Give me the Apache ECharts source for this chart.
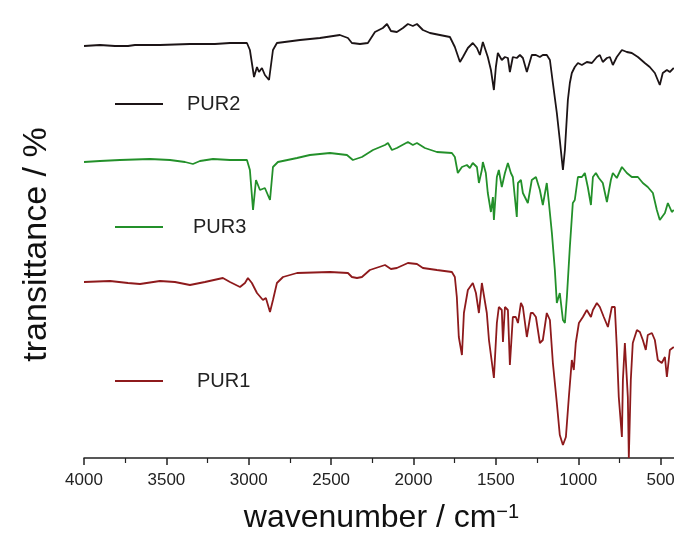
<!DOCTYPE html>
<html>
<head>
<meta charset="utf-8">
<script src="https://cdn.jsdelivr.net/npm/echarts@6/dist/echarts.min.js"></script>
<style>
  html, body { margin: 0; padding: 0; background: #fff; }
  #chart { width: 674px; height: 535px; }
</style>
</head>
<body>
<div id="chart"></div>
<script>
// wavenumber (cm-1) and offset transmittance (arbitrary units)
const pur2Wn = [4000,3903,3812,3733,3691,3539,3357,3205,3114,3011,2993,2968,2950,2938,2920,2902,2877,2853,2829,2689,2568,2447,2398,2374,2325,2277,2265,2234,2186,2161,2137,2101,2064,2034,2004,1979,1943,1900,1840,1779,1749,1718,1700,1670,1640,1615,1597,1579,1567,1549,1530,1518,1512,1500,1488,1464,1445,1427,1415,1397,1373,1354,1336,1312,1282,1257,1233,1215,1191,1172,1154,1130,1112,1093,1081,1063,1051,1039,1021,1002,978,948,917,887,869,851,826,808,790,766,735,705,675,638,596,566,535,505,487,462,444,420];
const pur2T = [103,103.25,103,103,103.25,103.25,103.5,103.5,103.75,103.75,102,95.25,97.75,96.5,97.5,95.75,94.5,102,103.75,104.5,105,105.75,105,103.75,103.5,103.75,104,106.5,107.5,108.5,106.75,106.5,107.5,108.5,108,108.5,107,106.25,105.75,105.25,102.75,99,100.25,102.5,103.75,102.5,100.75,104,103.75,100.25,97,96.5,92,97.75,101.25,99.5,100.25,100,96.5,100.25,100,100.75,100,96.5,100.75,100.75,100.25,100.75,100.75,99.5,93.75,86.25,79.5,72,77,89.5,93.75,96.25,97.75,98.75,98.25,99,98.75,100.25,100.75,99,100,100.25,98.25,100.25,102,101.5,101.25,100.25,98.75,97.75,96.25,93.25,96.25,97,96.5,97.5];

const pur3Wn = [4000,3903,3782,3600,3478,3387,3339,3296,3217,3114,3011,2993,2974,2956,2932,2902,2871,2853,2823,2707,2629,2507,2404,2368,2313,2246,2173,2155,2131,2101,2034,2004,1979,1931,1858,1767,1749,1731,1706,1676,1658,1640,1615,1603,1585,1579,1561,1549,1530,1518,1512,1494,1482,1464,1445,1427,1409,1397,1373,1366,1348,1336,1306,1282,1257,1233,1215,1191,1178,1160,1142,1130,1112,1093,1081,1069,1051,1033,1021,1002,978,960,942,923,911,893,875,851,826,802,790,766,735,705,675,638,608,578,547,523,505,474,456,432,420];
const pur3T = [74,74.25,74.5,74.75,74.5,74,73.5,74.25,74.75,74.5,74.5,72,62,69.5,67,67.5,64.5,72.75,74,75,75.75,76.25,75.75,74.5,75.25,77,78.25,78.75,77,77.5,79,78.25,78.75,77.5,76.5,76.25,75.25,71.25,72.75,73.25,72.5,73.75,72.75,68.75,72,74,71.25,66.25,61.5,65.25,59.5,70.25,72,67.75,71.25,73.75,71.25,70.25,60.25,68.75,69.5,66.25,63.75,69.5,70.25,67,63.25,68.75,63.75,56.25,47,38.75,41.25,34.5,33.75,40.25,52.75,63.75,64.5,70.25,70.25,71.25,67.75,63.25,70.25,71.25,70,68.75,64,69.5,71.25,70,72.75,71.25,70.25,70.25,68.75,67.75,66.25,62,59.5,61.25,63.75,61.5,62];

const pur1Wn = [4000,3842,3733,3660,3539,3448,3357,3266,3157,3114,3053,3023,3005,2981,2950,2914,2896,2871,2853,2829,2792,2707,2507,2398,2374,2343,2313,2265,2173,2161,2137,2101,2034,1979,1943,1858,1767,1749,1737,1725,1706,1694,1670,1640,1621,1603,1585,1573,1555,1542,1530,1512,1494,1482,1464,1457,1445,1427,1415,1397,1379,1366,1348,1336,1312,1288,1275,1257,1233,1215,1191,1172,1154,1130,1112,1093,1075,1057,1039,1027,1015,996,972,948,923,911,887,869,845,820,796,778,766,754,735,729,717,711,699,693,681,669,644,626,608,590,578,553,535,517,493,474,462,444,420];
const pur1T = [44,44.25,43.75,43.5,44.25,44,43.25,44,45,44,42.75,43.75,45,43.75,41.25,39.5,40,36.5,39.5,43.75,45.25,46.25,46.5,46.25,45.25,45,45.25,47,48.25,48.5,47.25,47.5,48.75,48.5,47.5,47,46.5,45.25,40.25,30.25,25.75,36.25,42,43.75,41.25,36.25,43.75,44,36.25,29.5,29.5,20,33.75,37.75,37,29,37.75,37,23.25,35.25,35.25,33.75,38.75,37.75,30.25,36.25,36.25,35.25,28.75,29.5,36.25,34.5,23.75,13.75,5.75,3.25,5.25,15.25,24.5,22,28.75,33.75,35.25,37,35.25,37,38.75,37.75,35.25,32.75,37.75,37.75,27.75,15.25,5.25,19.5,28.75,28.25,15.25,0,19.5,28.75,32,31.5,29.5,27,30.75,31.25,29.5,24.5,23.75,25.25,20.25,27,27.75];

const names = ['PUR2', 'PUR3', 'PUR1'];
const colors = ['#1c1416', '#23902a', '#8e1a1c'];

function zip(xs, ys) {
  const out = [];
  for (let i = 0; i < Math.min(xs.length, ys.length); i++) out.push([xs[i], ys[i]]);
  return out;
}

const chart = echarts.init(document.getElementById('chart'), null, { renderer: 'canvas' });
const font = '"Liberation Sans", Arial, sans-serif';

function legendAt(name, top, gap) {
  return {
    data: [name],
    left: 115,
    top: top,
    padding: 0,
    icon: 'rect',
    itemWidth: 48,
    itemHeight: 2,
    selectedMode: false,
    textStyle: { fontFamily: font, fontSize: 20, color: '#222', padding: [0, 0, 0, gap] }
  };
}

chart.setOption({
  backgroundColor: '#ffffff',
  animation: false,
  // the plot runs on past the right edge of the picture, like the cropped original
  grid: { left: 84, right: -69, top: 15, bottom: 77, outerBoundsMode: 'none', containLabel: false },
  legend: [legendAt('PUR2', 94, 19), legendAt('PUR3', 217, 25), legendAt('PUR1', 371, 29)],
  xAxis: {
    type: 'value',
    inverse: true,
    min: 0,
    max: 4000,
    interval: 500,
    name: 'wavenumber / cm{sup|−1}',
    nameLocation: 'middle',
    nameGap: 44,
    nameTextStyle: {
      fontFamily: font, fontSize: 32, color: '#111', padding: [0, 64, 0, 0],
      rich: { sup: { fontFamily: font, fontSize: 20, color: '#111', verticalAlign: 'top', lineHeight: 16 } }
    },
    axisLine: { lineStyle: { color: '#222', width: 1.5 } },
    axisTick: { length: 7, lineStyle: { color: '#222', width: 1.5 } },
    minorTick: { show: true, splitNumber: 2, length: 5, lineStyle: { color: '#222', width: 1.2 } },
    axisLabel: { fontFamily: font, fontSize: 17, color: '#222', margin: 14, formatter: v => String(v) },
    splitLine: { show: false }
  },
  yAxis: {
    type: 'value',
    min: 0,
    max: 110.75,
    name: 'transittance / %',
    nameLocation: 'middle',
    nameGap: 30,
    nameTextStyle: { fontFamily: font, fontSize: 34, color: '#111', padding: [0, 16, 0, 0] },
    axisLine: { show: true, lineStyle: { color: '#222', width: 1.5 } },
    axisTick: { show: false },
    axisLabel: { show: false },
    splitLine: { show: false }
  },
  series: [
    { name: names[0], data: zip(pur2Wn, pur2T) },
    { name: names[1], data: zip(pur3Wn, pur3T) },
    { name: names[2], data: zip(pur1Wn, pur1T) }
  ].map((s, i) => Object.assign({
    type: 'line',
    showSymbol: false,
    color: colors[i],
    lineStyle: { width: 1.8, color: colors[i] },
    emphasis: { disabled: true }
  }, s))
});
</script>
</body>
</html>
